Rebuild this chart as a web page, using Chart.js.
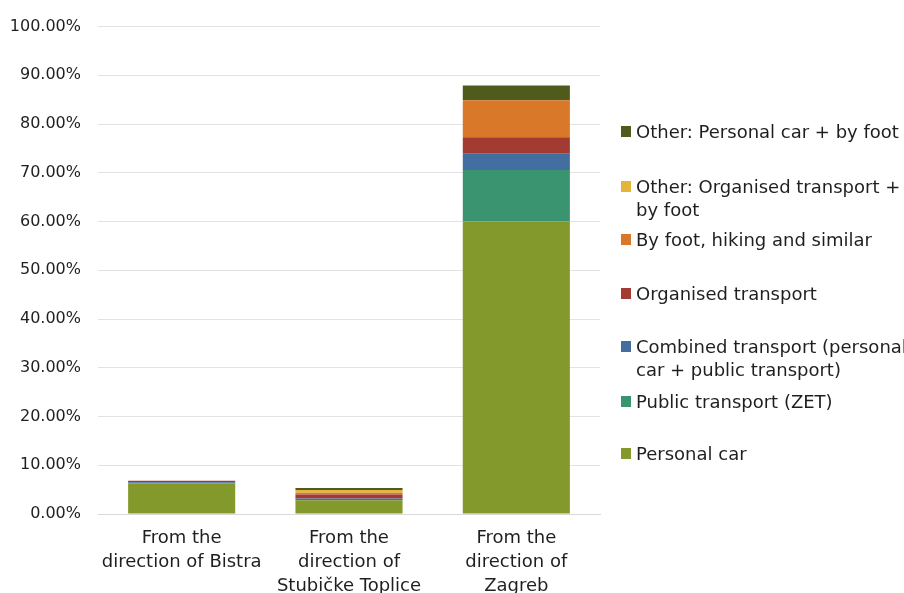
<!DOCTYPE html>
<html>
<head>
<meta charset="utf-8">
<script src="https://cdn.jsdelivr.net/npm/chart.js@4/dist/chart.umd.min.js"></script>
<style>
  html, body { margin: 0; padding: 0; background: #fff; }
  #wrap { position: relative; width: 904px; height: 593px; overflow: hidden; }
  #legend { position: absolute; left: 0; top: 0; width: 904px; height: 593px; pointer-events: none;
    font-family: "DejaVu Sans", sans-serif; font-size: 18px; color: #1f1f1f; line-height: 23px; }
  .item { position: absolute; left: 621px; }
  .box { position: absolute; left: 0; top: 6px; width: 10px; height: 11px; }
  .txt { position: absolute; left: 15px; top: 0; white-space: nowrap; }
</style>
</head>
<body>
<div id="wrap">
  <canvas id="myChart" width="904" height="593"></canvas>
  <div id="legend"></div>
</div>
<script>
var categories = [
  ["From the", "direction of Bistra"],
  ["From the", "direction of", "Stubičke Toplice"],
  ["From the", "direction of", "Zagreb"]
];

// shares in %, one value per direction
var personalCar = [6.2, 2.8, 60.0];
var publicTransport = [0.1, 0.0, 10.6];
var combinedTransport = [0.2, 0.4, 3.3];
var organisedTransport = [0.3, 0.8, 3.4];
var byFoot = [0.0, 0.35, 7.6];
var otherOrganisedFoot = [0.0, 0.55, 0.0];
var otherCarFoot = [0.0, 0.45, 3.0];

var seriesNames = [
  "Personal car",
  "Public transport (ZET)",
  ["Combined transport (personal", "car + public transport)"],
  "Organised transport",
  "By foot, hiking and similar",
  ["Other: Organised transport +", "by foot"],
  "Other: Personal car + by foot"
];
var seriesColors = ["#84992b", "#3a9470", "#426ea0", "#a23b32", "#d97828", "#e3b53b", "#4e5b1c"];
var seriesValues = [personalCar, publicTransport, combinedTransport, organisedTransport, byFoot, otherOrganisedFoot, otherCarFoot];

var yTicks = [0, 10, 20, 30, 40, 50, 60, 70, 80, 90, 100];

var datasets = seriesValues.map(function (vals, i) {
  return {
    label: Array.isArray(seriesNames[i]) ? seriesNames[i].join(" ") : seriesNames[i],
    data: vals,
    backgroundColor: seriesColors[i],
    borderWidth: 0,
    categoryPercentage: 1,
    barPercentage: 0.64
  };
});

const ctx = document.getElementById("myChart").getContext("2d");
var myChart = new Chart(ctx, {
  type: "bar",
  data: { labels: categories, datasets: datasets },
  options: {
    responsive: false,
    animation: false,
    layout: { padding: { left: 8, right: 304, top: 18, bottom: 0 } },
    plugins: { legend: { display: false }, tooltip: { enabled: false } },
    scales: {
      x: {
        stacked: true,
        grid: { display: false, drawTicks: false },
        border: { display: true, color: "#d9d9d9", width: 1 },
        ticks: {
          color: "#1f1f1f",
          padding: 12,
          maxRotation: 0,
          autoSkip: false,
          font: { family: "DejaVu Sans", size: 18, lineHeight: 1.333 }
        },
        afterFit: function (scale) { scale.height = 79; }
      },
      y: {
        stacked: true,
        min: 0,
        max: 100,
        afterBuildTicks: function (scale) {
          scale.ticks = yTicks.map(function (v) { return { value: v }; });
        },
        afterFit: function (scale) { scale.width = 90; },
        grid: { color: "#e3e3e3", drawTicks: false },
        border: { display: false },
        ticks: {
          color: "#1f1f1f",
          padding: 17,
          font: { family: "DejaVu Sans", size: 16 },
          callback: function (v) { return v.toFixed(2) + "%"; }
        }
      }
    }
  }
});

// legend drawn as html, top entry first (reverse of stack order)
var legendTops = [120, 175, 228, 282, 335, 390, 442];
var legendBox = document.getElementById("legend");
for (var k = 0; k < seriesNames.length; k++) {
  var i = seriesNames.length - 1 - k;
  var item = document.createElement("div");
  item.className = "item";
  item.style.top = legendTops[k] + "px";
  var box = document.createElement("div");
  box.className = "box";
  box.style.background = seriesColors[i];
  var txt = document.createElement("div");
  txt.className = "txt";
  var label = seriesNames[i];
  txt.innerHTML = Array.isArray(label) ? label.join("<br>") : label;
  item.appendChild(box);
  item.appendChild(txt);
  legendBox.appendChild(item);
}
</script>
</body>
</html>
